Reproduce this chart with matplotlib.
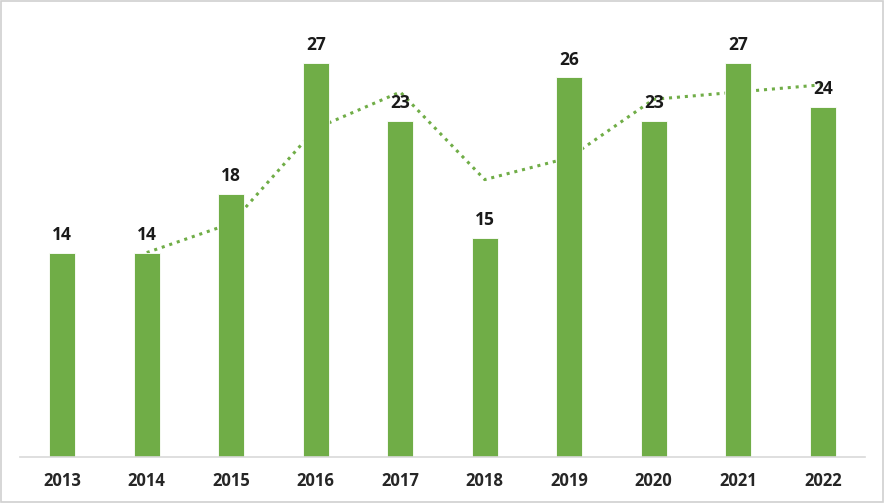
import matplotlib
matplotlib.use("Agg")
import matplotlib.pyplot as plt
from matplotlib.patches import Rectangle

years = ["2013", "2014", "2015", "2016", "2017", "2018", "2019", "2020", "2021", "2022"]
values = [14, 14, 18, 27, 23, 15, 26, 23, 27, 24]
# dotted trend line (2-period moving average as shown in the picture), starts at 2014
trend_years = ["2014", "2015", "2016", "2017", "2018", "2019", "2020", "2021", "2022"]
trend_values = [14, 16, 22.5, 25, 19, 20.5, 24.5, 25, 25.5]

green = "#70AD47"
plt.rcParams['font.family'] = ['Open Sans', 'DejaVu Sans']

fig = plt.figure(figsize=(8.84, 5.03), dpi=100)
ax = fig.add_axes([20/884, 1 - 457/503, 845/884, (457-19)/503])

x = list(range(len(years)))
ax.bar(x, values, width=0.31, color=green, edgecolor="white", linewidth=0.6, zorder=2)
tx = [years.index(y) for y in trend_years]
ax.plot(tx, trend_values, color=green, linestyle=(0, (1, 1.6)), linewidth=2.2, zorder=1)

for xi, v in zip(x, values):
    ax.text(xi, v + 0.6, str(v), ha="center", va="bottom", fontsize=12.5,
            fontweight="bold", color="#1a1a1a", zorder=3)

ax.set_xlim(-0.5, len(years) - 0.5)
ax.set_ylim(0, 30)
ax.set_xticks(x)
ax.set_xticklabels(years, fontsize=12, fontweight="bold", color="#262626")
ax.tick_params(axis="x", length=0, pad=11)
ax.set_yticks([])
for s in ["top", "right", "left"]:
    ax.spines[s].set_visible(False)
ax.spines["bottom"].set_color("#D9D9D9")
ax.spines["bottom"].set_linewidth(1.2)

fig.patches.append(Rectangle((1/884, 1/503), 882/884, 501/503, transform=fig.transFigure,
                             fill=False, edgecolor="#D0D0D0", linewidth=1.2))

fig.savefig("out.png", dpi=100)
